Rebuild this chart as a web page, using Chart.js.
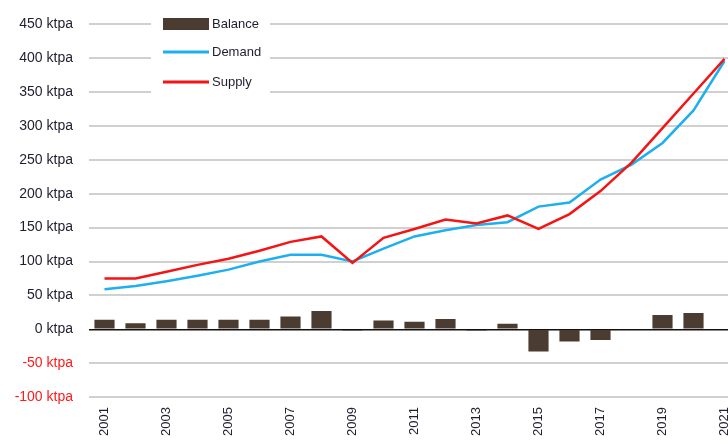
<!DOCTYPE html>
<html>
<head>
<meta charset="utf-8">
<script src="https://cdn.jsdelivr.net/npm/chart.js@4/dist/chart.umd.min.js"></script>
<style>
html,body{margin:0;padding:0;background:#fff;overflow:hidden;width:728px;height:444px;}
canvas{display:block;}
</style>
</head>
<body>
<canvas id="c" width="760" height="444"></canvas>
<script>
const years = ['2001','2002','2003','2004','2005','2006','2007','2008','2009','2010','2011','2012','2013','2014','2015','2016','2017','2018','2019','2020','2021'];
const balance = [14, 9, 14, 14, 14, 14, 19, 27, -2, 13, 11, 15, -2, 8, -33, -18, -16, 0, 21, 24, 0];
const demand = [59, 64, 71, 79, 88, 100, 110, 110, 100, 119, 137, 146, 154, 158, 181, 187, 221, 243, 275, 323, 396];
const supply = [75, 75, 85, 95, 104, 116, 129, 137, 98, 135, 148, 162, 156, 168, 148, 170, 204, 246, 297, 348, 399];
const yTicks = [-100, -50, 0, 50, 100, 150, 200, 250, 300, 350, 400, 450];

const legendPlugin = {
  id: 'boxLegend',
  afterDraw(chart) {
    const ctx = chart.ctx;
    const ds = chart.data.datasets;
    ctx.save();
    ctx.fillStyle = '#ffffff';
    ctx.fillRect(151, 8, 119, 92);
    const rows = [24, 52, 82];
    ds.forEach((d, i) => {
      const y = rows[i];
      if (d.type === 'bar') {
        ctx.fillStyle = d.backgroundColor;
        ctx.fillRect(163, y - 6, 46, 12);
      } else {
        ctx.strokeStyle = d.borderColor;
        ctx.lineWidth = 3;
        ctx.beginPath();
        ctx.moveTo(163, y);
        ctx.lineTo(209, y);
        ctx.stroke();
      }
      ctx.fillStyle = '#1e1e2e';
      ctx.font = '13px "Liberation Sans", Arial, sans-serif';
      ctx.textBaseline = 'middle';
      ctx.textAlign = 'left';
      ctx.fillText(d.label, 212, y);
    });
    ctx.restore();
  }
};

new Chart(document.getElementById('c'), {
  data: {
    labels: years,
    datasets: [
      { type: 'bar', label: 'Balance', data: balance, backgroundColor: '#4a3c30', order: 3,
        categoryPercentage: 1.0, barPercentage: 0.65 },
      { type: 'line', label: 'Demand', data: demand, borderColor: '#1eaff0', borderWidth: 2.5,
        pointRadius: 0, tension: 0, fill: false, order: 2 },
      { type: 'line', label: 'Supply', data: supply, borderColor: '#f41414', borderWidth: 2.5,
        pointRadius: 0, tension: 0, fill: false, order: 1 }
    ]
  },
  options: {
    responsive: false,
    animation: false,
    layout: { padding: { top: 20, right: 20, bottom: 0, left: 0 } },
    plugins: { legend: { display: false }, tooltip: { enabled: false } },
    scales: {
      x: {
        offset: true,
        grid: { display: false, drawTicks: false },
        border: { display: false },
        afterFit(scale) { scale.height = 47; },
        ticks: {
          autoSkip: false,
          maxRotation: 90,
          minRotation: 90,
          padding: 10,
          color: '#1e1e2e',
          font: { family: '"Liberation Sans", Arial, sans-serif', size: 13 },
          callback(v, i) { const y = years[i]; return (parseInt(y) % 2 === 1) ? y : ''; }
        }
      },
      y: {
        min: -100,
        max: 450,
        afterFit(scale) { scale.width = 89; },
        afterBuildTicks(scale) { scale.ticks = yTicks.map(v => ({ value: v })); },
        border: { display: false },
        grid: {
          drawTicks: false,
          color: (c) => c.tick && c.tick.value === 0 ? '#111111' : '#d0d0d0',
          lineWidth: (c) => c.tick && c.tick.value === 0 ? 1.5 : 2
        },
        ticks: {
          padding: 16,
          color: (c) => c.tick && c.tick.value < 0 ? '#ff1a1a' : '#1e1e2e',
          font: { family: '"Liberation Sans", Arial, sans-serif', size: 14 },
          callback(v) { return v + ' ktpa'; }
        }
      }
    }
  },
  plugins: [legendPlugin]
});
</script>
</body>
</html>
